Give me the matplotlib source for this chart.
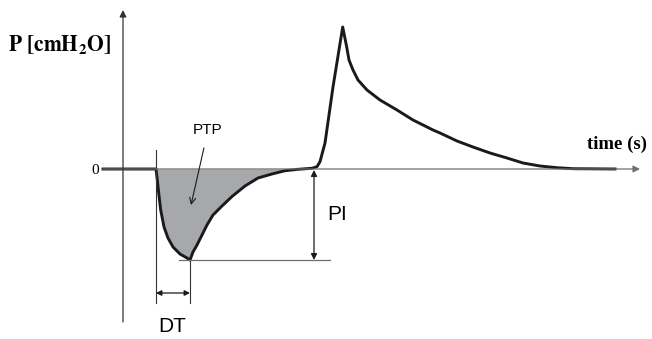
import matplotlib.pyplot as plt

# pressure trace (time in s, pressure in cmH2O, arbitrary scale)
t = [-0.20, 0.33, 0.343, 0.357, 0.377, 0.41, 0.45, 0.50, 0.57, 0.64, 0.67,
     0.70, 0.74, 0.79, 0.84, 0.90, 0.99, 1.09, 1.22, 1.35, 1.49, 1.62, 1.75,
     1.89, 1.94, 1.97, 2.02, 2.10, 2.197, 2.237, 2.26, 2.30, 2.35, 2.44,
     2.57, 2.74, 2.90, 3.10, 3.17, 3.34, 3.50, 3.67, 3.84, 4.00, 4.17, 4.34,
     4.50, 4.92]
p = [0.0, 0.0, -1.1, -2.4, -4.1, -5.8, -6.9, -7.8, -8.5, -8.9, -9.1,
     -8.3, -7.6, -6.6, -5.6, -4.6, -3.7, -2.75, -1.7, -0.9, -0.5, -0.17, -0.03,
     0.07, 0.23, 0.73, 2.6, 8.2, 14.2, 12.2, 10.9, 9.9, 8.9, 7.9,
     6.9, 5.9, 4.9, 3.9, 3.6, 2.8, 2.2, 1.6, 1.1, 0.6, 0.3, 0.13,
     0.03, 0.0]

trigger_start = 0.33
p_min = min(p)
t_min = t[p.index(p_min)]

fig = plt.figure(figsize=(6.52, 3.39), dpi=100)
ax = fig.add_axes([0, 0, 1, 1])
ax.set_xlim(-1.23, 5.29)
ax.set_ylim(-17.0, 16.9)
ax.axis('off')

axis_col = '#6e6e6e'
# axes with arrows
ax.annotate('', xy=(5.17, 0), xytext=(-0.2, 0),
            arrowprops=dict(arrowstyle='-|>', color=axis_col, lw=0.9,
                            mutation_scale=10, shrinkA=0, shrinkB=0))
ax.annotate('', xy=(0, 15.9), xytext=(0, -15.3),
            arrowprops=dict(arrowstyle='-|>', color='#333333', lw=0.9,
                            mutation_scale=10, shrinkA=0, shrinkB=0))

# shaded PTP area
neg_t = [x for x in t if trigger_start <= x <= 1.89]
neg_p = [min(p[t.index(x)], 0) for x in neg_t]
ax.fill_between(neg_t, neg_p, 0, color='#a7a8ab', lw=0)

ax.plot(t, p, color='#1a1a1a', lw=2.1, solid_joinstyle='round')

# DT and PI guides
ax.plot([trigger_start, trigger_start], [1.9, -13.4], color='#333333', lw=0.8)
ax.plot([t_min, t_min], [p_min, -13.4], color='#333333', lw=0.8)
ax.plot([0.56, 2.07], [p_min, p_min], color=axis_col, lw=0.9)
ax.annotate('', xy=(t_min, -12.4), xytext=(trigger_start, -12.4),
            arrowprops=dict(arrowstyle='<|-|>', color='#1a1a1a', lw=0.9,
                            mutation_scale=8, shrinkA=0, shrinkB=0))
ax.annotate('', xy=(1.91, p_min), xytext=(1.91, -0.1),
            arrowprops=dict(arrowstyle='<|-|>', color='#1a1a1a', lw=0.9,
                            mutation_scale=9, shrinkA=0, shrinkB=0))

# PTP label with arrow
ax.annotate('PTP', xy=(0.68, -3.6), xytext=(0.85, 3.9), ha='center', va='center',
            fontsize=11, family='Liberation Sans',
            arrowprops=dict(arrowstyle='->', color='#1a1a1a', lw=0.8,
                            shrinkA=6, shrinkB=0))

ax.text(2.04, -4.6, 'PI', fontsize=15, family='Liberation Sans',
        ha='left', va='center')
ax.text(0.49, -15.8, 'DT', fontsize=15, family='Liberation Sans',
        ha='center', va='center')

plt.rcParams['mathtext.fontset'] = 'stix'
ax.text(-1.15, 12.4, r'$\mathbf{P\ [cmH_2O]}$', fontsize=15.5, ha='left', va='center')
ax.text(-0.28, -0.1, '0', fontsize=11, family='Liberation Serif',
        ha='center', va='center')
ax.text(4.64, 2.5, 'time (s)', fontsize=13.5, family='Liberation Serif',
        weight='bold', ha='left', va='center')

plt.savefig('out.png', dpi=100)
